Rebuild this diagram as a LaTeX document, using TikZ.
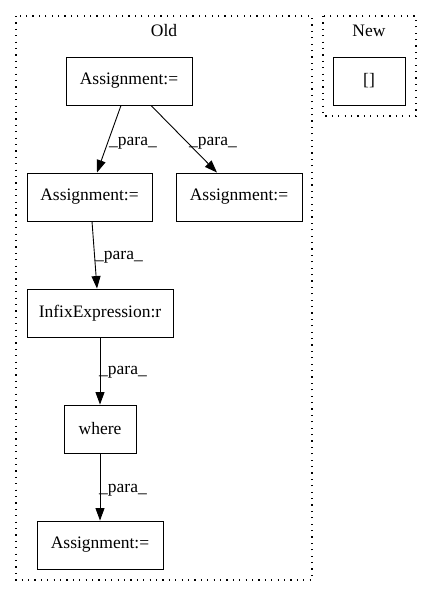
\documentclass[tikz,border=0pt]{standalone}
\usepackage{fontspec}
\setmainfont{Liberation Serif}
\usetikzlibrary{arrows.meta}
\begin{document}
\begin{tikzpicture}[x=1bp,y=-1bp,
  box/.style={draw, line width=0.9bp, inner sep=0pt, minimum height=48bp, font=\fontsize{17.5bp}{20bp}\selectfont},
  cluster/.style={draw, line width=1.1bp, dash pattern=on 1.2bp off 5.2bp},
  edge/.style={draw, line width=0.9bp, -{Triangle[length=12.5bp,width=9bp]}},
  elab/.style={font=\fontsize{17.5bp}{20bp}\selectfont, inner sep=0pt},
  ctitle/.style={font=\fontsize{17.5bp}{20bp}\selectfont, inner sep=0pt}]
\useasboundingbox (0,0) rectangle (432,596);
% clusters
\path[cluster] (16,16) rectangle (312,580);
\path[cluster] (323,16) rectangle (416,116);
\node[ctitle] (oldt) at (164,31) {Old};
\node[ctitle] (newt) at (369,31) {New};
% nodes
\node[box, minimum width=126bp] (a1) at (129,81) {Assignment:=};
\node[box, minimum width=72bp] (nb) at (369,81) {[]};
\node[box, minimum width=125bp] (a2) at (89.5,197) {Assignment:=};
\node[box, minimum width=126bp] (a3) at (239,197) {Assignment:=};
\node[box, minimum width=146bp] (ie) at (100,313) {InfixExpression:r};
\node[box, minimum width=72bp] (wh) at (100,429) {where};
\node[box, minimum width=126bp] (a4) at (100,545) {Assignment:=};
% edges
\draw[edge] (a1.south -| 121,0) -- (a2.north -| 97,0);
\draw[edge] (a1.south -| 151,0) -- (a3.north -| 217,0);
\draw[edge] (a2.south -| 92,0) -- (ie.north -| 97,0);
\draw[edge] (ie.south -| 100,0) -- (wh.north -| 100,0);
\draw[edge] (wh.south -| 100,0) -- (a4.north -| 100,0);
% labels
\node[elab, anchor=west] (l1) at (109,143) {\_para\_};
\node[elab, anchor=west] (l2) at (189,143) {\_para\_};
\node[elab, anchor=west] (l3) at (95,257) {\_para\_};
\node[elab, anchor=west] (l4) at (99,372) {\_para\_};
\node[elab, anchor=west] (l5) at (99,490) {\_para\_};
\end{tikzpicture}
\end{document}
